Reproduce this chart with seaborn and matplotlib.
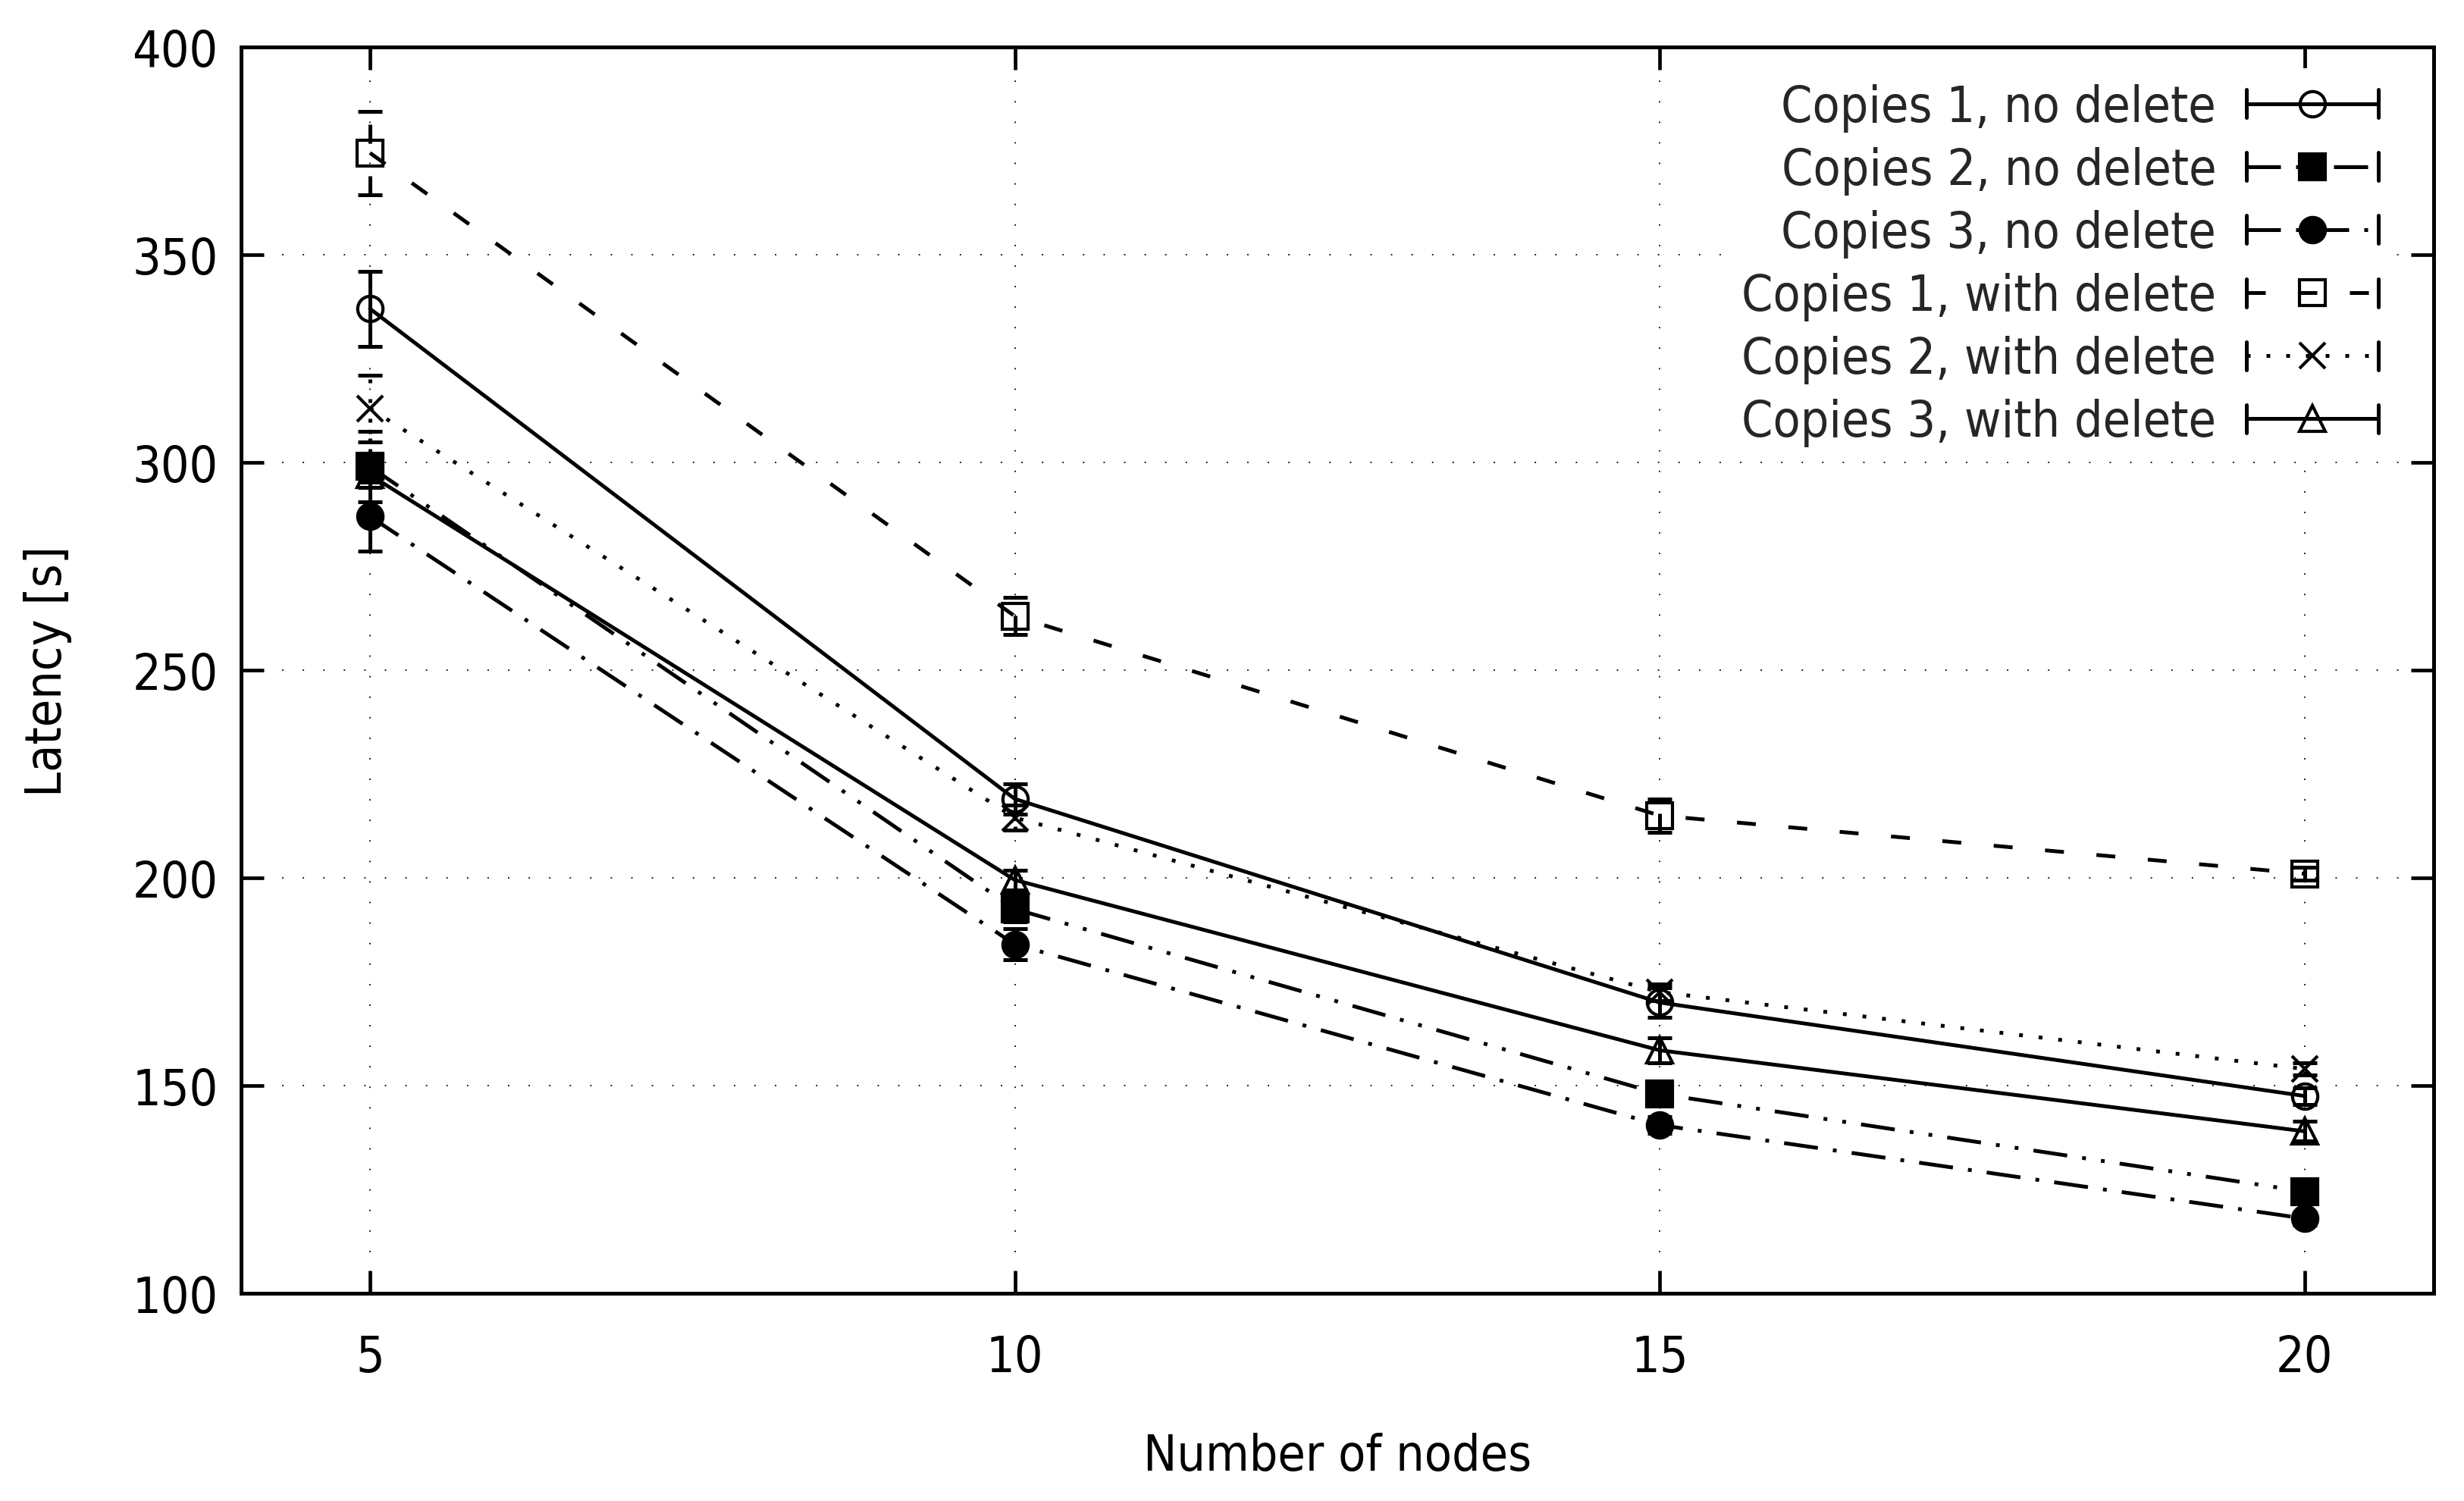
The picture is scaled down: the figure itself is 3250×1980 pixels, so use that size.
import numpy as np
import pandas as pd
import matplotlib
matplotlib.use('Agg')
import matplotlib.pyplot as plt
from matplotlib.lines import Line2D
from matplotlib.legend_handler import HandlerLine2D
import seaborn as sns

# data
nodes = [5, 10, 15, 20]

labels = ['Copies 1, no delete', 'Copies 2, no delete', 'Copies 3, no delete',
          'Copies 1, with delete', 'Copies 2, with delete', 'Copies 3, with delete']

c1_nodel = [337, 219, 170, 147.5]
c2_nodel = [299, 192.5, 148, 124.5]
c3_nodel = [287, 184, 140.5, 118]
c1_del = [374.5, 263, 215, 201]
c2_del = [313, 214.5, 172.5, 154]
c3_del = [297, 199.5, 158.5, 139]

c1_nodel_err = [9, 3.7, 3.5, 2]
c2_nodel_err = [8.5, 3, 2.5, 1.5]
c3_nodel_err = [8.3, 3.7, 2, 1.5]
c1_del_err = [10, 4.5, 4, 1.5]
c2_del_err = [8, 3, 2, 1.5]
c3_del_err = [3, 2.4, 3, 2.4]

means = [c1_nodel, c2_nodel, c3_nodel, c1_del, c2_del, c3_del]
errs = [c1_nodel_err, c2_nodel_err, c3_nodel_err, c1_del_err, c2_del_err, c3_del_err]

# gnuplot-like styles
LW = 3.6
dashes = [
    '-',
    (0, (9, 4, 1, 4, 1, 4)),
    (0, (9, 4, 1, 4)),
    (0, (5, 8.6)),
    (0, (1, 4.2)),
    '-',
]
markers = ['o', 's', 'o', 's', 'x', '^']
mfaces = ['none', 'black', 'black', 'none', 'black', 'none']
MS = 24

sns.set_theme(style='ticks')
plt.rcParams['font.family'] = ['DejaVu Sans']
plt.rcParams['font.stretch'] = 'condensed'
FS = 47.5

fig = plt.figure(figsize=(32.5, 19.81), dpi=100)
ax = fig.add_axes([0.0978, 0.1383, 0.8898, 0.8299])

for i in range(len(labels)):
    df = pd.DataFrame({'nodes': nodes, 'latency': means[i]})
    ebar = ax.errorbar(nodes, means[i], yerr=errs[i], fmt='none', ecolor='black',
                       elinewidth=LW, capsize=11.5, capthick=LW, zorder=3)
    for col in ebar[2]:
        col.set_linestyle(dashes[i])
    sns.lineplot(data=df, x='nodes', y='latency', ax=ax, color='black',
                 linewidth=LW, linestyle=dashes[i], marker=markers[i],
                 markersize=MS, markerfacecolor=mfaces[i], markeredgecolor='black',
                 markeredgewidth=3, errorbar=None, zorder=4)


class CapHandler(HandlerLine2D):
    # gnuplot style key sample: line with error bar caps at both ends
    def create_artists(self, legend, orig_handle, xdescent, ydescent,
                       width, height, fontsize, trans):
        arts = super().create_artists(legend, orig_handle, xdescent, ydescent,
                                      width, height, fontsize, trans)
        yc = (height - ydescent) / 2
        for xx in (-xdescent, -xdescent + width):
            arts.append(Line2D([xx, xx], [yc - height * 0.4, yc + height * 0.4],
                               color='black', lw=LW, transform=trans))
        return arts


handles = [Line2D([], [], color='black', lw=LW, linestyle=dashes[i],
                  marker=markers[i], markersize=MS, markerfacecolor=mfaces[i],
                  markeredgecolor='black', markeredgewidth=3)
           for i in range(len(labels))]
leg = ax.legend(handles, labels, loc='upper right', bbox_to_anchor=(0.9817, 0.983),
                fontsize=FS, markerfirst=False,
                handlelength=2.64, handletextpad=0.6, labelspacing=0.29,
                borderpad=0.3, borderaxespad=0, frameon=True, fancybox=False,
                handler_map={Line2D: CapHandler()})
leg.get_frame().set_facecolor('white')
leg.get_frame().set_edgecolor('none')
leg.get_frame().set_alpha(1)

ax.set_xlim(4, 21)
ax.set_ylim(100, 400)
ax.set_xticks(nodes)
ax.set_yticks(np.arange(100, 401, 50))
ax.grid(True, color='black', linestyle=(0, (1, 14)), linewidth=1.3)
ax.set_axisbelow(True)

for s in ax.spines.values():
    s.set_linewidth(3.6)
    s.set_color('black')
    s.set_visible(True)

ax.tick_params(axis='both', direction='in', length=21.6, width=3.4, color='black',
               labelsize=FS, top=True, right=True, labelcolor='black')
ax.tick_params(axis='x', pad=38)
ax.tick_params(axis='y', pad=22)

ax.set_xlabel('Number of nodes', fontsize=FS, labelpad=48, color='black')
ax.set_ylabel('Latency [s]', fontsize=FS, labelpad=57, color='black')

fig.savefig('out.png', dpi=100, facecolor='white')
